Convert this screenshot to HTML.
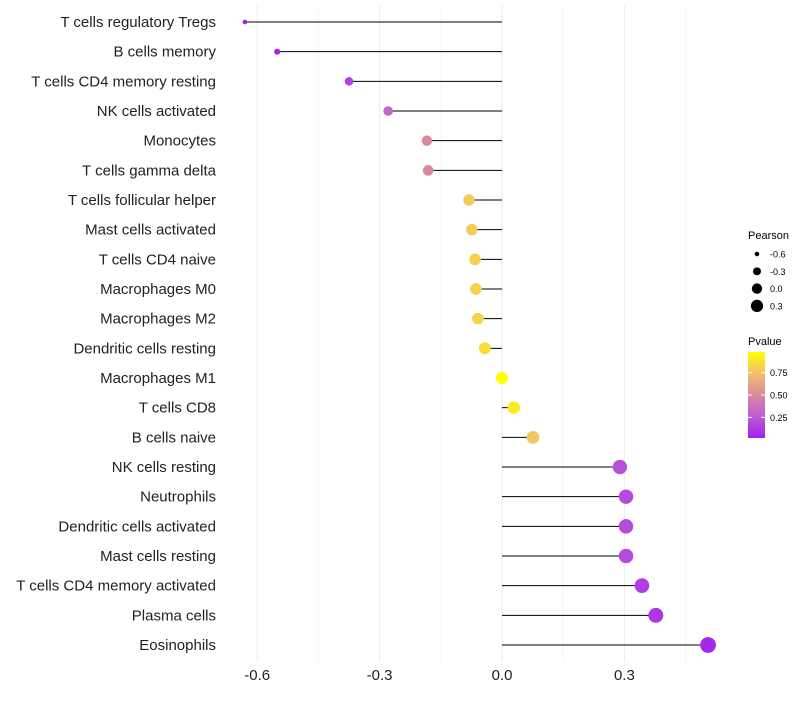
<!DOCTYPE html>
<html><head><meta charset="utf-8"><style>
body{margin:0;background:#fff;font-family:"Liberation Sans",sans-serif}
</style></head><body>
<svg id="c" width="800" height="700" xmlns="http://www.w3.org/2000/svg">
<defs><linearGradient id="pg" x1="0" y1="1" x2="0" y2="0">
<stop offset="0" stop-color="#a020f0"/><stop offset="0.25" stop-color="#be5ad2"/><stop offset="0.5" stop-color="#d88a9c"/><stop offset="0.75" stop-color="#f2be6e"/><stop offset="1" stop-color="#ffff00"/></linearGradient></defs>
<g id="grid"></g><g id="marks"></g><g id="labels"></g>
<g font-size="10" fill="#000">
<text x="748" y="239" font-size="11">Pearson</text>
<g id="sizeLegend"></g>
<text x="748" y="345" font-size="11">Pvalue</text>
<rect x="748" y="352" width="17" height="86" fill="url(#pg)"/>
<g id="colorTicks"></g>
</g>
</svg>
<script>
const categories=["T cells regulatory  Tregs","B cells memory","T cells CD4 memory resting","NK cells activated","Monocytes","T cells gamma delta","T cells follicular helper","Mast cells activated","T cells CD4 naive","Macrophages M0","Macrophages M2","Dendritic cells resting","Macrophages M1","T cells CD8","B cells naive","NK cells resting","Neutrophils","Dendritic cells activated","Mast cells resting","T cells CD4 memory activated","Plasma cells","Eosinophils"];
const pearson=[-0.63,-0.551,-0.375,-0.279,-0.184,-0.181,-0.081,-0.074,-0.066,-0.064,-0.059,-0.042,0.0,0.029,0.076,0.289,0.304,0.304,0.304,0.343,0.377,0.505];
const pvalue=[0.02,0.03,0.15,0.3,0.5,0.5,0.8,0.8,0.82,0.82,0.83,0.87,1.0,0.92,0.78,0.2,0.18,0.18,0.18,0.13,0.1,0.03];
const xTicks=[-0.6,-0.3,0.0,0.3];
const xTickLabels=["-0.6","-0.3","0.0","0.3"];
const sizeLegendValues=[-0.6,-0.3,0.0,0.3];
const sizeLegendLabels=["-0.6","-0.3","0.0","0.3"];
const colorTickValues=[0.25,0.5,0.75];
const colorTickLabels=["0.25","0.50","0.75"];
const NS="http://www.w3.org/2000/svg";
const X=v=>502+v*408;
const Y=i=>22+i*(623/21);
const R=v=>Math.sqrt(Math.max(3,37+50*v));
const stops=[[160,32,240],[190,90,210],[216,138,156],[242,190,110],[255,255,0]];
function col(p){p=Math.max(0,Math.min(1,p));const s=Math.min(3,Math.floor(p*4)),t=p*4-s;const a=stops[s],b=stops[s+1];return `rgb(${a.map((x,k)=>Math.round(x+(b[k]-x)*t)).join(',')})`}
function mk(t,at,par){const e=document.createElementNS(NS,t);for(const k in at)e.setAttribute(k,at[k]);par.appendChild(e);return e}
const grid=document.getElementById('grid'),marks=document.getElementById('marks'),labels=document.getElementById('labels');
xTicks.forEach((v,i)=>{
 const l=mk('line',{x1:X(v),x2:X(v),y1:5,y2:662,stroke:'#ebebeb','stroke-width':1},grid);
 
 
 const m=mk('line',{x1:X(v+0.15),x2:X(v+0.15),y1:5,y2:662,stroke:'#f4f4f4','stroke-width':1},grid);
 
 
 const t=mk('text',{x:X(v),y:680,'text-anchor':'middle','font-size':15,fill:'#222'},labels);
 t.textContent=xTickLabels[i];
 
 
});
categories.forEach((c,i)=>{
 const y=Y(i);
 const l=mk('line',{x1:X(0),x2:X(pearson[i]),y1:y,y2:y,stroke:'#000','stroke-width':1},marks);
 
 
 const p=mk('circle',{cx:X(pearson[i]),cy:y,r:R(pearson[i]),fill:col(pvalue[i])},marks);
 
 
 const t=mk('text',{x:216,y:y+5,'text-anchor':'end','font-size':15,fill:'#222'},labels);
 t.textContent=c;
 
 
});
const sl=document.getElementById('sizeLegend');
sizeLegendValues.forEach((v,i)=>{
 const y=254+i*17.3;
 const c=mk('circle',{cx:757,cy:y,r:R(v)*0.85,fill:'#000'},sl);
 
 
 const t=mk('text',{x:770,y:y+3.5,'font-size':9},sl);
 t.textContent=sizeLegendLabels[i];
 
 
});
const ct=document.getElementById('colorTicks');
colorTickValues.forEach((v,i)=>{
 const y=438-(v-0.02)/0.96*86;
 const t=mk('text',{x:770,y:y+3.5,'font-size':9},ct);
 t.textContent=colorTickLabels[i];
 
 
 mk('line',{x1:748,x2:752,y1:y,y2:y,stroke:'#fff'},ct);
 mk('line',{x1:761,x2:765,y1:y,y2:y,stroke:'#fff'},ct);
});
</script>
</body></html>
